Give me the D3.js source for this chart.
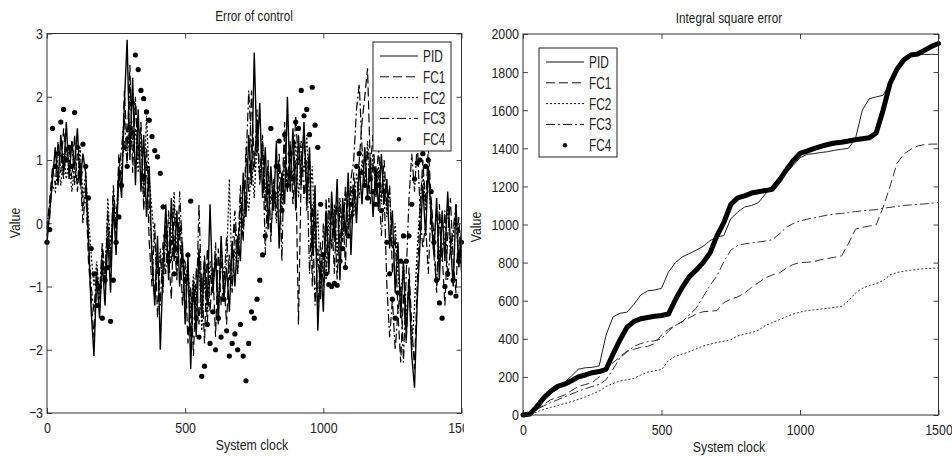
<!DOCTYPE html>
<html>
<head>
<meta charset="utf-8">
<script src="https://cdn.jsdelivr.net/npm/d3@7/dist/d3.min.js"></script>
<style>
body { margin: 0; background: #fff; }
text { font-family: "Liberation Sans", Arial, sans-serif; fill: #222; }
</style>
</head>
<body>
<div id="chart"></div>
<script>
// DATA - left panel: error of control, one sample every 10 clocks
const clock = d3.range(0, 1501, 10);
const errPID = [
  -0.3, 0.2, 0.7, 1.2, 0.6, 1.4, 0.8, 1.6, 0.7, 1.3,
  0.9, 1.5, 0.6, 1.1, 0.8, -0.2, -1.4, -2.1, -0.8, -1.5,
  -0.6, -1.3, -0.2, -1.1, 0.3, -0.5, 0.9, 0.4, 1.9, 2.9,
  1.0, 2.3, 0.6, 1.8, 0.5, 1.4, 0.1, 0.9, -0.6, -1.3,
  -0.2, -2.0, -0.7, 0.3, -0.9, 0.4, -0.6, 0.2, -1.0, -0.3,
  -1.6, -0.5, -2.3, -0.9, -1.8, -0.4, -1.5, -0.6, -1.3, 0.3,
  -1.1, -0.5, -1.6, -0.2, -1.2, -0.7, -1.4, -0.3, -1.0, -0.2,
  -0.6, 0.8, 0.1, 1.4, 0.6, 2.7, 1.1, 1.9, 0.4, 1.2,
  -0.1, 0.9, 0.2, 1.3, -0.4, 0.8, 0.3, 2.0, 0.5, 1.5,
  0.2, 1.4, 0.6, 1.6, 0.4, 1.2, -0.5, 0.6, -1.7, -0.6,
  -1.4, 0.2, -0.8, 0.5, -0.3, 0.7, -0.9, 0.4, -0.2, 0.8,
  -0.5, 0.6, 0.0, 0.9, 0.3, 1.2, 0.4, 1.0, 0.1, 0.9,
  0.2, 1.1, 0.3, 0.7, -0.4, 0.2, -1.1, -0.3, -1.5, -0.6,
  -1.8, -0.9, -2.1, -2.6, -1.2, -0.3, 0.6, -0.2, 0.9, 0.1,
  -0.5, 0.4, -0.9, 0.2, -0.6, 0.5, -0.3, -1.0, 0.3, -0.7,
  -0.1];
const errFC1 = [
  -0.1, 0.4, 0.9, 0.6, 1.3, 0.8, 1.5, 1.0, 1.2, 0.7,
  1.4, 0.5, 1.0, 0.2, 0.6, -0.6, -1.2, -1.8, -0.9, -1.4,
  -0.4, -1.0, 0.2, -0.7, 0.5, -0.2, 1.1, 0.6, 2.1, 1.2,
  2.5, 0.8, 2.0, 1.1, 1.6, 0.2, 1.0, -0.3, -1.0, 0.0,
  -1.5, -0.5, -1.1, 0.1, -0.5, -1.2, 0.3, -0.8, -0.1, -1.3,
  -0.6, -1.9, -1.0, -2.1, -0.7, -1.6, -0.8, -1.9, -0.4, -1.4,
  -0.7, -1.8, -0.4, -1.3, -0.9, -1.6, -0.5, -1.1, 0.0, -0.8,
  0.4, -0.3, 1.2, 0.5, 2.1, 0.9, 1.6, 0.7, 1.4, 0.2,
  1.0, -0.3, 0.7, 0.1, 1.1, 0.4, 1.6, 0.6, 1.3, 0.3,
  1.0, -1.6, 0.8, 1.5, 0.2, 1.1, -1.0, 0.3, -1.5, -0.3,
  -1.0, 0.4, -0.6, 0.2, -0.8, 0.5, -0.4, 0.3, -0.7, 0.6,
  0.0, 0.8, 0.2, 1.0, 1.6, 2.0, 2.45, 0.9, 1.4, 0.5,
  1.2, 0.4, 1.0, 0.2, 0.6, -0.8, -0.2, -1.4, -2.2, -1.1,
  -1.9, -0.7, -1.6, -2.3, -0.9, 0.2, 1.0, 0.3, 1.2, 0.4,
  -0.2, -1.1, 0.3, -0.5, -1.3, -0.2, 0.4, -0.6, -1.1, 0.1,
  -0.8];
const errFC2 = [
  0.0, 0.3, 0.6, 0.5, 0.9, 0.6, 1.1, 0.7, 1.0, 0.5,
  0.9, 0.6, 1.2, 0.4, 0.8, 0.1, -0.5, -1.0, -0.6, -1.2,
  -0.5, -0.9, 0.4, -0.4, 0.3, -0.1, 0.6, 0.9, 1.3, 1.0,
  1.6, 1.1, 1.5, 0.8, 1.3, 0.4, 1.7, 0.7, 0.2, -0.3,
  -0.8, -0.4, -1.0, -0.2, -0.7, -0.3, 0.5, -0.5, 0.1, -0.6,
  -1.0, -0.6, -1.5, -0.8, -1.3, -0.5, -1.7, -0.9, -1.4, -0.6,
  -1.0, -0.5, -1.3, -0.3, -0.9, -0.6, 0.7, -1.0, -0.4, -0.8,
  0.1, -0.2, 0.5, 0.2, 1.0, 0.4, 1.3, 0.7, 1.1, 0.5,
  0.9, 0.3, 0.7, 0.0, 0.6, 0.2, 1.0, 0.5, 1.2, 0.6,
  1.3, 0.4, 1.1, 0.8, 1.4, 0.3, 0.9, -0.4, 0.2, -1.1,
  -0.5, -0.9, 0.1, -0.4, 0.3, -0.5, 0.4, -0.2, 0.5, -0.1,
  0.6, 0.1, 0.8, 0.4, 1.0, 0.6, 1.3, 0.7, 1.1, 0.5,
  0.9, 0.3, 0.8, 0.1, 0.5, -0.4, 0.0, -0.8, -1.2, -0.6,
  -1.5, -0.9, -2.0, -1.3, -0.4, 0.3, 0.8, 0.2, 0.9, 0.0,
  -0.3, 0.2, -0.6, 0.1, -0.4, 0.3, -0.5, -0.2, 0.2, -0.7,
  -0.3];
const errFC3 = [
  -0.2, 0.1, 0.8, 0.9, 1.0, 1.1, 0.7, 1.2, 0.9, 1.3,
  0.6, 1.1, 0.8, 0.0, 0.5, -0.3, -1.0, -1.4, -0.7, -1.1,
  -0.3, -0.8, 0.0, -0.6, 0.6, 0.0, 0.8, 1.2, 1.7, 0.9,
  2.2, 1.3, 1.9, 1.0, 1.5, 0.6, 1.2, 0.3, -0.4, -1.2,
  -0.6, -1.3, -0.3, -0.8, 0.2, -0.6, -0.2, -0.9, 0.5, -0.4,
  -1.5, -0.7, -1.8, -1.0, -1.4, 0.3, -1.2, -0.5, -1.6, -0.8,
  -1.1, -0.3, -1.4, -0.6, -1.0, -0.2, -0.9, -0.4, 0.2, -0.5,
  0.6, -0.1, 0.9, 2.1, 1.2, 0.8, 1.8, 0.6, 1.3, -0.5,
  0.8, -0.2, 0.6, 0.4, 1.0, -0.6, 1.4, 0.5, 1.1, 0.7,
  1.7, 0.9, 1.3, 0.4, 1.0, -0.8, 0.3, -1.3, -0.4, -1.2,
  0.0, -0.7, 0.4, -0.4, 0.2, -0.9, 0.3, -0.3, 0.6, -0.2,
  0.7, 1.0, 1.8, 2.2, 1.2, 0.6, 1.2, 0.3, 1.0, 0.4,
  0.8, -0.2, 0.5, -1.0, -1.8, -1.2, -2.0, -1.4, -1.0, -2.2,
  -0.8, 0.4, 1.1, 0.5, 1.3, 0.2, -0.4, 0.0, -0.8, 0.3,
  -0.5, -1.0, 0.1, -0.6, 0.2, -0.9, -0.4, -0.1, 0.3, -0.6,
  -0.2];
const errFC4 = [
  -0.3, -0.1, 1.5, 0.9, 1.1, 1.6, 1.8, 1.0, 1.2, 0.9,
  1.75, 1.2, 0.8, 1.25, 0.9, 0.4, -0.4, -0.8, -1.3, -1.0,
  -1.5, -0.9, -0.7, -1.55, -0.9, -0.3, 0.1, 0.6, 1.2, 0.9,
  1.5, 1.9, 2.66, 2.43, 2.1, 1.97, 1.76, 1.63, 1.37, 1.15,
  1.05, 0.79, 0.26, -0.2, -0.6, -0.3, -0.8, -0.4, -0.1, -0.6,
  -0.9, -0.5, 0.35, -1.2, -1.5, -1.8, -2.42, -2.26, -1.6, -1.9,
  -1.4, -2.0, -1.5, -1.8, -1.2, -1.7, -2.1, -1.9, -1.75, -2.0,
  -1.6, -2.1, -2.49, -1.9, -1.4, -1.5, -1.2, -0.9, -0.5, -0.2,
  0.5, 1.5, 0.4, 0.9, 1.3, 0.2, 1.4, 0.6, 1.1, 0.7,
  1.6, 1.5, 2.1, 1.7, 1.8, 1.4, 2.15, 1.55, 1.2, 0.3,
  -0.5, -0.8, -0.97, -1.0, -0.95, -0.98, -0.6, -0.4, -0.7, -0.2,
  0.3, 0.5, 0.9, 1.1, 0.8, 0.6, 0.4, 0.7, 0.5, 0.3,
  0.6, 0.2, 0.5, -0.3, -0.8, -1.2, -1.5, -1.1, -0.6, -0.2,
  -0.6, -0.2, 0.3, 0.7, 0.95, 1.0, 1.1, 0.9, 1.0, 0.5,
  -0.3, -0.9, -1.26, -1.5, -1.0, -0.8, -1.1, -0.9, -1.15, -0.6,
  -0.3];

// DATA - right panel: integral square error, one reading every 25 clocks
const iseClock = d3.range(0, 1501, 25);
const isePID = [0, 5, 40, 80, 115, 135, 170, 205, 240, 248, 250, 258, 420, 515, 534, 540,
  580, 630, 652, 656, 665, 750, 800, 830, 847, 865, 885, 915, 935, 942, 1030, 1065,
  1092, 1100, 1115, 1160, 1205, 1250, 1270, 1310, 1350, 1368, 1372, 1378, 1382, 1390, 1395, 1400,
  1450, 1600, 1660, 1670, 1678, 1745, 1815, 1865, 1890, 1893, 1893, 1893, 1893];
const iseFC1 = [0, 12, 30, 55, 80, 92, 105, 128, 150, 160, 170, 200, 240, 275, 305, 335,
  345, 355, 360, 375, 420, 450, 470, 490, 510, 530, 542, 545, 548, 590, 608, 620,
  640, 670, 695, 720, 735, 745, 770, 790, 800, 802, 805, 815, 822, 828, 835, 900,
  975, 985, 992, 998, 1090, 1200, 1320, 1370, 1395, 1412, 1420, 1422, 1422];
const iseFC2 = [0, 2, 15, 30, 40, 50, 60, 70, 82, 95, 110, 125, 150, 165, 178, 185,
  192, 210, 225, 232, 238, 285, 308, 320, 332, 347, 362, 372, 380, 388, 395, 415,
  425, 432, 445, 470, 485, 500, 515, 530, 540, 548, 552, 556, 560, 565, 570, 600,
  640, 665, 680, 690, 705, 735, 748, 755, 760, 765, 768, 770, 772];
const iseFC3 = [0, 12, 30, 48, 65, 80, 95, 110, 125, 138, 150, 160, 185, 240, 300, 330,
  360, 375, 385, 390, 400, 440, 470, 490, 525, 560, 620, 680, 730, 805, 865, 890,
  898, 903, 908, 913, 920, 950, 985, 1005, 1018, 1028, 1035, 1042, 1050, 1055, 1058, 1063,
  1068, 1072, 1075, 1078, 1085, 1090, 1095, 1100, 1103, 1106, 1108, 1112, 1116];
const iseFC4 = [0, 5, 44, 90, 125, 150, 162, 180, 200, 210, 222, 228, 240, 320, 394, 460,
  490, 505, 512, 518, 522, 530, 605, 670, 725, 760, 800, 850, 940, 1010, 1105, 1140,
  1150, 1165, 1172, 1178, 1185, 1230, 1285, 1335, 1373, 1385, 1398, 1410, 1420, 1428, 1432, 1438,
  1445, 1450, 1455, 1480, 1600, 1740, 1815, 1865, 1890, 1895, 1915, 1935, 1950];

const seriesNames = ["PID", "FC1", "FC2", "FC3", "FC4"];
const dashes = [null, "9,4", "2,2", "9,3,2,3", null];
const xTicks = [0, 500, 1000, 1500];
const errTicks = [-3, -2, -1, 0, 1, 2, 3];
const iseTicks = d3.range(0, 2001, 200);

// SVG
const width = 952, height = 456;
const svg = d3.select("#chart").append("svg")
  .attr("width", width)
  .attr("height", height);

// narrow font look of the original
function squeeze(sel, k) {
  sel.each(function() {
    const t = d3.select(this);
    const x = +t.attr("x") || 0, y = +t.attr("y") || 0;
    t.attr("x", 0).attr("y", 0).attr("transform", `translate(${x},${y}) scale(${k},1)`);
  });
}

function label(g, x, y, txt, size, k, rot) {
  g.append("text")
    .attr("text-anchor", "middle")
    .attr("font-size", size)
    .attr("transform", `translate(${x},${y})` + (rot ? " rotate(-90)" : "") + ` scale(${k},1)`)
    .text(txt);
}

function axes(g, x, y, ticks) {
  const [x0, x1] = x.range(), [y1, y0] = y.range();
  g.append("rect").attr("x", x0).attr("y", y0).attr("width", x1 - x0).attr("height", y1 - y0)
    .attr("fill", "#fff");

  const bottom = g.append("g").attr("transform", `translate(0,${y1})`)
    .call(d3.axisBottom(x).tickValues(xTicks).tickSize(-5).tickPadding(9).tickFormat(d3.format("d")));
  const left = g.append("g").attr("transform", `translate(${x0},0)`)
    .call(d3.axisLeft(y).tickValues(ticks).tickSize(-5).tickPadding(4).tickFormat(d3.format("d")));
  g.append("g").attr("transform", `translate(0,${y0})`)
    .call(d3.axisTop(x).tickValues(xTicks).tickSize(-5).tickFormat(""));
  g.append("g").attr("transform", `translate(${x1},0)`)
    .call(d3.axisRight(y).tickValues(ticks).tickSize(-5).tickFormat(""));

  g.selectAll(".domain").remove();
  g.selectAll(".tick line").attr("stroke", "#444");
  [bottom, left].forEach(a => {
    a.attr("font-size", 15.5).attr("font-family", null);
    squeeze(a.selectAll("text").attr("fill", "#222"), 0.8);
  });
}

function frame(g, x, y) {
  const [x0, x1] = x.range(), [y1, y0] = y.range();
  g.append("rect").attr("x", x0).attr("y", y0).attr("width", x1 - x0).attr("height", y1 - y0)
    .attr("fill", "none").attr("stroke", "#333").attr("stroke-width", 1);
}

function legend(g, lx, ly) {
  const lg = g.append("g").attr("transform", `translate(${lx},${ly})`);
  lg.append("rect").attr("width", 78).attr("height", 109)
    .attr("fill", "#fff").attr("stroke", "#222").attr("stroke-width", 1);
  seriesNames.forEach((name, i) => {
    const yy = 14 + i * 20.8;
    if (i < 4) {
      lg.append("line").attr("x1", 7).attr("x2", 45).attr("y1", yy).attr("y2", yy)
        .attr("stroke", "#111").attr("stroke-width", 1)
        .attr("stroke-dasharray", dashes[i]);
    } else {
      lg.append("circle").attr("cx", 26).attr("cy", yy).attr("r", 2.2).attr("fill", "#111");
    }
    lg.append("text").attr("font-size", 16)
      .attr("transform", `translate(50,${yy + 6}) scale(0.74,1)`)
      .text(name);
  });
}

// LEFT PANEL
svg.append("clipPath").attr("id", "leftClip")
  .append("rect").attr("x", 0).attr("y", 0).attr("width", 464).attr("height", height);
const gL = svg.append("g").attr("clip-path", "url(#leftClip)");

const xL = d3.scaleLinear().domain([0, 1500]).range([47, 461.5]);
const yL = d3.scaleLinear().domain([-3, 3]).range([413, 33.5]);
axes(gL, xL, yL, errTicks);

const lineL = d3.line().x((d, i) => xL(clock[i])).y(d => yL(d));
[errPID, errFC1, errFC2, errFC3].forEach((s, i) => {
  gL.append("path").datum(s)
    .attr("d", lineL)
    .attr("fill", "none")
    .attr("stroke", "#000")
    .attr("stroke-width", i === 0 ? 1.4 : 1.2)
    .attr("stroke-dasharray", dashes[i]);
});
gL.append("g").selectAll("circle")
  .data(errFC4)
  .join("circle")
  .attr("cx", (d, i) => xL(clock[i]))
  .attr("cy", d => yL(d))
  .attr("r", 2.6)
  .attr("fill", "#000");

frame(gL, xL, yL);
legend(gL, 373, 42);
label(gL, 254, 21, "Error of control", 14, 0.84);
label(gL, 252, 450, "System clock", 15, 0.82);
label(gL, 20, 223, "Value", 15, 0.82, true);

// RIGHT PANEL
const gR = svg.append("g");
const xR = d3.scaleLinear().domain([0, 1500]).range([523, 938.5]);
const yR = d3.scaleLinear().domain([0, 2000]).range([415, 34]);
axes(gR, xR, yR, iseTicks);

const lineR = d3.line().x((d, i) => xR(iseClock[i])).y(d => yR(d));
[isePID, iseFC1, iseFC2, iseFC3].forEach((s, i) => {
  gR.append("path").datum(s)
    .attr("d", lineR)
    .attr("fill", "none")
    .attr("stroke", i === 0 ? "#222" : "#333")
    .attr("stroke-width", 1)
    .attr("stroke-dasharray", dashes[i]);
});
gR.append("path").datum(iseFC4)
  .attr("d", lineR)
  .attr("fill", "none")
  .attr("stroke", "#000")
  .attr("stroke-width", 5)
  .attr("stroke-linejoin", "round")
  .attr("stroke-linecap", "round");

frame(gR, xR, yR);
legend(gR, 539, 48);
label(gR, 729, 23, "Integral square error", 14, 0.84);
label(gR, 729, 452, "System clock", 15, 0.82);
label(gR, 481, 227, "Value", 15, 0.82, true);
</script>
</body>
</html>
